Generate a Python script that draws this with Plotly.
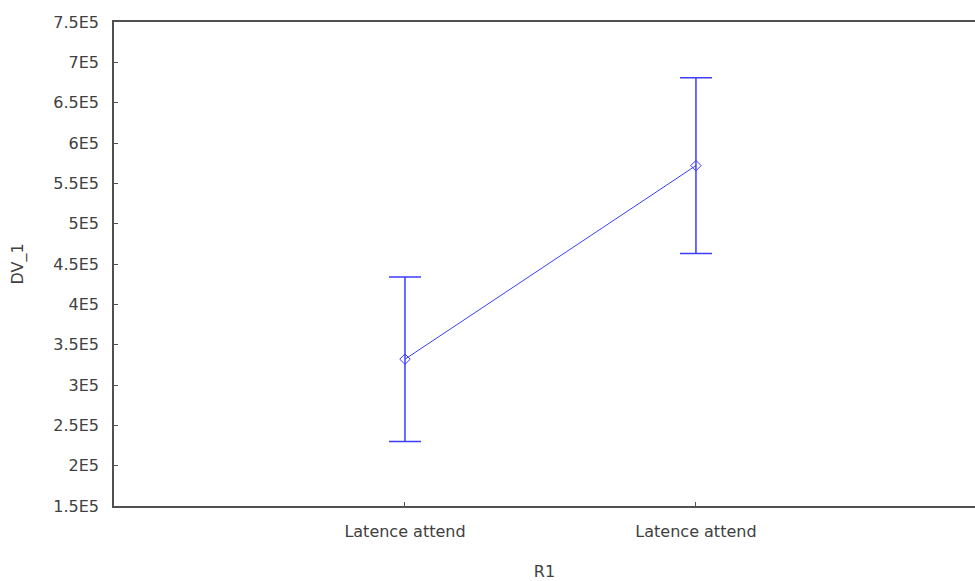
import plotly.graph_objects as go

# Category positions and their labels (both groups carry the same name)
positions = [1, 2]
category_labels = ["Latence attend", "Latence attend"]

# Group means and error half-widths for DV_1
means = [3.32e5, 5.72e5]
errors = [1.02e5, 1.09e5]

# Y-axis ticks
y_tickvals = [1.5e5, 2e5, 2.5e5, 3e5, 3.5e5, 4e5, 4.5e5, 5e5, 5.5e5, 6e5, 6.5e5, 7e5, 7.5e5]
y_ticktext = ["1.5E5", "2E5", "2.5E5", "3E5", "3.5E5", "4E5", "4.5E5", "5E5",
              "5.5E5", "6E5", "6.5E5", "7E5", "7.5E5"]

blue = "#3c3cff"
axis_color = "#505050"
text_color = "#404040"
font_family = "DejaVu Sans, Verdana, Arial, sans-serif"
font_size = 16

fig = go.Figure()
fig.add_trace(go.Scatter(
    x=positions,
    y=means,
    mode="lines+markers",
    line=dict(color=blue, width=1),
    marker=dict(symbol="diamond-open", size=8, color=blue, line=dict(width=1, color=blue)),
    error_y=dict(type="data", array=errors, visible=True, color=blue, thickness=1.5, width=16),
    showlegend=False,
))

fig.update_layout(
    width=975,
    height=581,
    margin=dict(l=114, r=0, t=22, b=75),
    paper_bgcolor="white",
    plot_bgcolor="white",
    font=dict(family=font_family, size=font_size, color=text_color),
    xaxis=dict(
        range=[0, 2.959],
        tickvals=positions,
        ticktext=category_labels,
        showgrid=False,
        zeroline=False,
        showline=True,
        mirror=True,
        linecolor=axis_color,
        linewidth=1.5,
        ticks="inside",
        ticklen=4,
        tickcolor=axis_color,
        ticklabelstandoff=10,
        tickfont=dict(family=font_family, size=font_size, color=text_color),
        title=dict(text="R1", standoff=26, font=dict(family=font_family, size=font_size, color=text_color)),
    ),
    yaxis=dict(
        range=[1.5e5, 7.5e5],
        tickvals=y_tickvals,
        ticktext=y_ticktext,
        showgrid=False,
        zeroline=False,
        showline=True,
        mirror=False,
        linecolor=axis_color,
        linewidth=1.5,
        ticks="inside",
        ticklen=4,
        tickcolor=axis_color,
        ticklabelstandoff=10,
        tickfont=dict(family=font_family, size=font_size, color=text_color),
        title=dict(text="DV_1", standoff=26, font=dict(family=font_family, size=font_size, color=text_color)),
    ),
)

fig.write_html("out.html")
